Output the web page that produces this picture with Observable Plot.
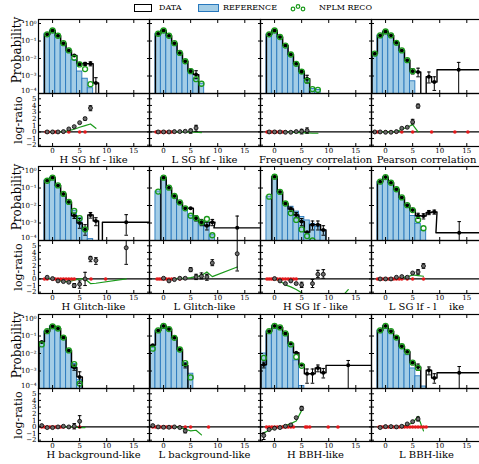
<!DOCTYPE html>
<html><head><meta charset="utf-8">
<script src="https://cdn.jsdelivr.net/npm/d3@7"></script>
<script src="https://cdn.jsdelivr.net/npm/@observablehq/plot@0.6"></script>
<style>
html,body{margin:0;padding:0;background:#fff;overflow:hidden;}
#fig{position:relative;width:479px;height:464px;overflow:hidden;font-family:"DejaVu Serif",serif;color:#000;}
.t{position:absolute;white-space:pre;line-height:1;}
</style></head><body><div id="fig"></div>
<script>
// ---------------- DATA ----------------
const panelNames = ["H SG hf - like","L SG hf - like","Frequency correlation","Pearson correlation",
  "H Glitch-like","L Glitch-like","H SG lf - like","L SG lf - l    ike",
  "H background-like","L background-like","H BBH-like","L BBH-like"];
const binStart = [-1,-1,-1,-2,-1,-1,-1,-1,-2,-2,-2,-1];
const refProb = [
  [0.26,0.40,0.20,0.075,0.029,0.008,0.0018,0.0007,0.0002,null],
  [0.26,0.40,0.20,0.075,0.021,0.007,0.0022,0.00066,0.00036],
  [0.24,0.40,0.17,0.055,0.017,0.005,0.0018,0.00053,0.00018,0.00016],
  [0.019,0.21,0.35,0.21,0.079,0.029,0.007,0.0005,null,null,null,null],
  [0.27,0.39,0.14,0.046,0.016,0.005,0.0019,0.0004,0.00012,null],
  [0.063,0.39,0.105,0.035,0.015,0.0069,0.0026,0.0019,0.0011,0.0011,0.0002],
  [0.032,0.44,0.06,0.015,0.0085,0.0045,0.0022,0.0014,0.0009,0.0006,0.0004],
  [0.23,0.42,0.2,0.085,0.029,0.0105,0.0025,0.0009,0.00036,null,null],
  [0.04,0.19,0.36,0.27,0.082,0.015,0.0025,0.0003],
  [0.022,0.21,0.38,0.25,0.079,0.017,0.0028,0.0007],
  [0.01,0.19,0.38,0.31,0.14,0.03,0.004,0.00014,null,null,null,null],
  [0.21,0.38,0.19,0.082,0.026,0.008,0.0014,0.0005,0.00013,null,null]
];
const dataProb = [
  [0.24,0.40,0.20,0.075,0.029,0.015,0.005,0.005,0.005,0.0004],
  [0.26,0.40,0.20,0.075,0.021,0.007,0.0019,0.0012,null],
  [0.24,0.40,0.17,0.055,0.017,0.005,0.0018,0.0007,null,null],
  [0.019,0.21,0.35,0.21,0.079,0.029,0.008,0.0019,0.0017,null,0.0009,0.00045],
  [0.27,0.39,0.14,0.046,0.016,0.0026,0.001,0.00043,0.0029,0.0013],
  [null,0.39,0.105,0.035,0.015,0.007,0.007,0.0019,0.0011,0.0007,0.0011],
  [null,0.44,0.06,0.013,0.0063,0.0029,0.0012,0.0003,0.0008,0.0008,0.0004],
  [0.23,0.42,0.2,0.085,0.029,0.0105,0.0055,0.0026,0.0025,0.004,0.0043],
  [0.046,0.19,0.36,0.27,0.082,0.015,0.0016,0.00046],
  [0.03,0.21,0.38,0.25,0.079,0.017,0.0021,null],
  [0.0023,0.19,0.38,0.31,0.14,0.037,0.011,0.0023,0.0007,0.0007,0.0015,0.0008],
  [0.21,0.38,0.19,0.082,0.026,0.0125,0.003,0.0017,null,0.0011,0.0004]
];
const nplmProb = [
  [0.24,0.40,0.20,0.075,0.029,0.011,0.0046,0.0025,0.00034,null],
  [0.26,0.40,0.20,0.075,0.021,0.007,0.0019,0.00066,0.00036],
  [0.24,0.40,0.17,0.055,0.017,0.005,0.0018,0.00053,0.00018,0.00016],
  [0.019,0.21,0.35,0.21,0.079,0.029,0.008,0.0019,null,null,null,null],
  [0.26,0.39,0.14,0.046,0.016,0.005,0.0019,0.00043,null,null],
  [0.063,0.39,0.105,0.035,0.015,0.0069,0.0026,0.0019,0.0011,0.0017,0.0002],
  [0.032,0.44,0.06,0.013,0.0037,0.0015,0.00043,0.00018,0.0001,null,null],
  [0.23,0.42,0.2,0.085,0.029,0.0105,0.0055,0.0015,0.0005,null,null],
  [0.033,0.19,0.36,0.27,0.082,0.015,0.0025,0.00019],
  [0.019,0.21,0.38,0.25,0.079,0.017,0.0028,0.00043],
  [0.0056,0.19,0.38,0.31,0.14,0.033,0.0064,0.002,null,null,null,null],
  [0.21,0.38,0.19,0.082,0.026,0.0125,0.003,0.0015,0.00007,null,null]
];
// wide last bin: [low edge, high edge, data probability, marker x]
const wideBin = [null,null,null,[9.5,18,0.0023,13.5],[9.2,18,0.0011,13.6],[9.3,18,0.00053,13.6],
  null,[9.3,18,0.00028,13.6],null,null,[9.5,18,0.0021,13.6],[9.5,18,0.0008,13.6]];
const dataErr = [
  [[5,0.004,0.006],[6,0.004,0.006],[7,0.0038,0.0065],[8,0.0001,0.0008]],
  [[5,0.0015,0.0025],[6,0.0007,0.002]],
  [[5,0.0014,0.0023],[6,0.0004,0.0011]],
  [[5,0.0013,0.0026],[6,0.0009,0.0028],[8,0.0004,0.0017],[9,0.00015,0.0009],[13.5,0.0001,0.006]],
  [[4,0.0018,0.0036],[5,0.0005,0.0018],[6,0.0002,0.0008],[7,0.0019,0.004],[8,0.0007,0.002],[13.6,0.0002,0.003]],
  [[6,0.0013,0.0026],[7,0.0007,0.0016],[8,0.0004,0.0011],[9,0.0007,0.0016],[13.6,0.0001,0.0025]],
  [[3,0.0045,0.008],[4,0.002,0.004],[5,0.0007,0.0018],[7,0.0004,0.0013],[8,0.0004,0.0013],[9,0.0002,0.0007]],
  [[6,0.0018,0.0036],[7,0.0017,0.0034],[8,0.003,0.0052],[9,0.0032,0.0055],[13.6,0.0001,0.0012]],
  [[4,0.0011,0.0022],[5,0.0002,0.0009]],
  [[4,0.0015,0.0028]],
  [[-2,0.0015,0.0032],[6,0.0002,0.0013],[7,0.0002,0.0013],[8,0.0009,0.0022],[9,0.0004,0.0014],[13.6,0.0001,0.004]],
  [[6,0.0011,0.0025],[8,0.0006,0.0017],[9,0.0002,0.0007],[13.6,0.0001,0.0018]]
];
const ratioData = [
  [0,0,0,0.05,0.45,0.8,1.4,2.0,3.6,null],
  [0,0,0,0.05,0.05,0.1,0.2,0.6,null],
  [0,0,0,-0.05,-0.05,0.05,0.1,0.2,null,null],
  [0,0,-0.05,-0.05,0.05,0.55,0.7,1.5,3.9,null,null,null],
  [0.25,0.05,-0.3,-0.4,-0.5,-1.0,-0.8,0,3.1,2.8],
  [null,0.1,-0.3,-0.1,0.1,0.1,1.4,0.3,0.4,0.3,2.4],
  [null,0.05,-0.3,-0.7,-0.3,-0.7,-0.9,null,-0.7,0.7,0.7],
  [0,0,0,0.25,0.35,0.25,0.9,1.05,1.95,null,null],
  [0.2,-0.1,-0.1,0,0.1,0,0.1,0.85],
  [0.2,0,-0.05,-0.05,0,-0.1,-0.6,null],
  [-1.3,-0.4,-0.2,-0.1,0.1,0.3,1.4,2.8,null,null,null,null],
  [-0.1,0.05,0.05,0,0.1,0.45,0.8,1.2,null,null,null]
];
const wideRatio = [null,null,null,null,4.7,3.8,null,null,null,null,null,null];
const ratioErr = [
  [[6,1.8,2.2],[7,3.2,3.95]],
  [[5,-0.2,0.4],[6,0.1,1.0]],
  [[5,-0.3,0.4],[6,-0.2,0.6]],
  [[5,1.2,1.9],[6,3.6,4.2]],
  [[4,-1.3,-0.7],[5,-1.4,-0.3],[6,-1.0,1.0],[7,2.6,3.4],[8,2.2,3.2],[13.6,2.2,6]],
  [[5,1.1,1.7],[6,-0.1,0.7],[7,0,0.9],[8,-0.2,0.7],[9,2.0,2.9],[13.6,1.2,6]],
  [[5,-1.3,-0.5],[7,-1.3,-0.1],[8,0.2,1.3],[9,0.1,1.4]],
  [[6,0.7,1.4],[7,1.6,2.3]],
  [[4,-0.3,0.5],[5,-0.1,1.7]],
  [[4,-0.9,-0.3]],
  [[-2,-1.9,-0.9],[5,2.5,3.1]],
  [[6,0.9,1.5]]
];
const ratioGreen = [
  [-0.05,0,0,0.05,0.2,0.4,0.7,0.95,1.2,0.55],
  [0,0,0,0,0,0,0,-0.05,-0.1],
  [0,0,0,0,-0.05,-0.1,-0.1,-0.15,-0.2,-0.2],
  [0,0,0,0,0.05,0.4,0.7,1.1,0,null,null,null],
  [0.1,0,-0.2,-0.4,-0.4,-0.2,0,0,-0.7,-0.65],
  [0,0,0.05,0.05,0.1,0.1,0.2,0.35,0.5,1.05,0.35],
  [0,0,-0.3,-0.9,-1.2,-1.6,-2.1,-3,-4,-5,-6],
  [0,0,0.05,0.1,0.2,0.3,0.6,0.5,0.4,null,null],
  [0.1,0,0,0,0,0,0,-0.1],
  [0,0,0,0,0,-0.1,-0.35,-0.6],
  [-0.9,-0.5,-0.2,0,0.2,0.5,0.9,2.5,null,null,null,null],
  [-0.1,0,0,0,0.05,0.3,0.6,1.6,-0.6,null,null]
];
const greenExtra = [[],[],[],[],[[13.6,0]],[[13.6,1.8]],[[13.6,-1.6]],[],[[6,-0.1]],[[6,-0.5],[7,-1.2]],[],[]];
const redX = [
  [-1.2,-0.8,0,0.5,1,2,3,5,6],
  [-1.4,-1,-0.6,-0.2,0.3,0.8,1.5,2],
  [-1.4,-1,-0.6,-0.2,0.3,0.8,1.5,2],
  [-2,-1.5,-1,0,1,2,3,5,8.5,12.8,15.2],
  [-1.5,-1,0,0.5,1,1.5,2,2.5,3,3.5,4,6,7.1,9.8],
  [-1.2,-0.8,-0.4,0,0.5,1,1.5,2,3],
  [-1.4,-1,-0.6,-0.2,0.5,1,1.5,2,2.5,3,3.5,4],
  [-1.5,-1,-0.5,0,0.5,1,1.5,2,2.5,3,4,5,7],
  [-2,-1.5,-1,-0.5,0,0.5,1,1.5,2,3,4,5],
  [-2,-1.5,-1,-0.5,0,0.5,1,1.5,2,3,4,5,8.3],
  [-1.5,-1,-0.5,0,0.5,1,1.5,2,2.5,3,3.5,5.7,6,6.5,9.9,11.7],
  [-1.2,-0.8,-0.4,0,0.5,1,1.5,2,2.5,3,3.5,4,4.5,5,5.5,6,6.5,7,7.5]
];
const xTicks = [0,5,10,15];
const probTicks = [1,0.1,0.01,0.001,0.0001];
const ratioTicks = [-2,-1,0,1,2,3,4,5];
const legendLabels = ["DATA","REFERENCE","NPLM RECO"];

// ---------------- LAYOUT ----------------
const colLeft = [38,149,260,371], panelW = 111;
const rowTop = [19,166,314], topH = 74, ratH = 53;
const xLabelY = [160,307,455];
const xDomain = [-2.6,17.9], probDomain = [1e-4,1.7], ratioDomain = [-2.2,5.8];
const C = {fill:"#a3cde6", edge:"#2878bd", green:"#1a9a1a", red:"#e41a1c"};
const FLOOR = 1e-8;
const fig = document.getElementById("fig");
const supMap = {"-":"\u207B","0":"\u2070","1":"\u00B9","2":"\u00B2","3":"\u00B3","4":"\u2074","5":"\u2075"};
const fmtPow = d => "10" + String(Math.round(Math.log10(d))).split("").map(c => supMap[c]).join("");
const blank = () => "";
const lowest = probTicks[probTicks.length - 1];
const fmtPowUpper = d => d === lowest ? "" : fmtPow(d);
const capSym = {draw(ctx){ ctx.moveTo(-1.8,0); ctx.lineTo(1.8,0); }};
const baseStyle = {background:"transparent", overflow:"visible", fontFamily:"DejaVu Serif, serif", fontSize:"7px", color:"black"};

function place(el, left, top){ el.style.position="absolute"; el.style.left=left+"px"; el.style.top=top+"px"; fig.appendChild(el); }
function addText(str, x, y, size, opts = {}){
  const s = document.createElement("span"); s.className = "t"; s.textContent = str;
  s.style.fontSize = size + "px"; s.style.left = x + "px"; s.style.top = y + "px";
  s.style.transform = opts.rotate ? "translate(-50%,-50%) rotate(-90deg)" : (opts.left ? "translate(0,-50%)" : "translate(-50%,-50%)");
  fig.appendChild(s);
}

for (let p = 0; p < 12; p++){
  const col = p % 4, row = Math.floor(p / 4);
  const left = colLeft[col], top = rowTop[row];
  const s = binStart[p];
  const bins = refProb[p].map((r,i) => ({x:s+i, ref:r, data:dataProb[p][i], nplm:nplmProb[p][i], ratio:ratioData[p][i], green:ratioGreen[p][i]}));
  const wb = wideBin[p];
  const segs = bins.map(b => ({lo:b.x-0.5, hi:b.x+0.5, v:b.data}));
  if (wb) segs.push({lo:wb[0], hi:wb[1], v:wb[2]});
  const step = [{x:segs[0].lo, y:FLOOR}];
  segs.forEach((g,i) => {
    if (i > 0 && g.lo > segs[i-1].hi + 1e-6) step.push({x:segs[i-1].hi, y:FLOOR}, {x:g.lo, y:FLOOR});
    const v = g.v == null ? FLOOR : g.v;
    step.push({x:g.lo, y:v}, {x:g.hi, y:v});
  });
  step.push({x:segs[segs.length-1].hi, y:FLOOR});
  const pts = bins.filter(b => b.data != null).map(b => ({x:b.x, y:b.data}));
  if (wb) pts.push({x:wb[3], y:wb[2]});
  const errs = dataErr[p].map(e => ({x:e[0], lo:e[1], hi:e[2]}));
  const caps = errs.flatMap(e => [{x:e.x, y:e.lo}, {x:e.x, y:e.hi}]);

  const topMarks = [
    Plot.rect(bins.filter(b => b.ref != null), {x1: b => b.x-0.5, x2: b => b.x+0.5, y1: FLOOR, y2: "ref", fill: C.fill, stroke: C.edge, strokeWidth: 0.9, clip: true}),
    Plot.line(step, {x:"x", y:"y", stroke:"black", strokeWidth:1.4, clip:true}),
    Plot.ruleX(errs, {x:"x", y1:"lo", y2:"hi", stroke:"black", strokeWidth:1, clip:true}),
    Plot.dot(caps, {x:"x", y:"y", symbol: capSym, stroke:"black", fill:"none", strokeWidth:1, clip:true}),
    Plot.dot(pts, {x:"x", y:"y", r:2, fill:"black", clip:true}),
    Plot.dot(bins.filter(b => b.nplm != null), {x:"x", y:"nplm", r:2.5, stroke:C.green, strokeWidth:1.3, fill:"none", clip:true}),
    Plot.frame({stroke:"black", strokeWidth:1.2}),
    Plot.axisX({ticks: xTicks, anchor:"bottom", tickSize:-3, tickFormat: blank}),
    Plot.axisX({ticks: xTicks, anchor:"top", tickSize:-3, tickFormat: blank}),
    Plot.axisY({ticks: probTicks, anchor:"left", tickSize:-3, tickPadding:5, tickFormat: col === 0 ? fmtPowUpper : blank}),
    Plot.axisY({ticks: probTicks, anchor:"right", tickSize:-3, tickFormat: blank})
  ];
  if (col === 0) topMarks.push(Plot.text([lowest], {y: d => d, frameAnchor:"left", dx:-2, dy:-3, textAnchor:"end", text: fmtPow}));
  const topPlot = Plot.plot({
    width: panelW, height: topH, margin: 0,
    x: {domain: xDomain, label: null},
    y: {type: "log", domain: probDomain, label: null},
    style: baseStyle,
    marks: topMarks
  });
  place(topPlot, left, top);

  const greenPts = bins.filter(b => b.green != null).map(b => ({x:b.x, y:b.green}))
    .concat(greenExtra[p].map(g => ({x:g[0], y:g[1]}))).sort((a,b) => a.x - b.x);
  const rpts = bins.filter(b => b.ratio != null).map(b => ({x:b.x, y:b.ratio}));
  if (wideRatio[p] != null) rpts.push({x:wb[3], y:wideRatio[p]});
  const rerr = ratioErr[p].map(e => ({x:e[0], lo:e[1], hi:e[2]}));
  const rcaps = rerr.flatMap(e => [{x:e.x, y:e.lo}, {x:e.x, y:e.hi}]);

  const ratPlot = Plot.plot({
    width: panelW, height: ratH, margin: 0,
    x: {domain: xDomain, label: null},
    y: {domain: ratioDomain, label: null},
    style: baseStyle,
    marks: [
      Plot.ruleY([0], {stroke:"black", strokeWidth:1.3}),
      Plot.line(greenPts, {x:"x", y:"y", stroke:C.green, strokeWidth:1.2, clip:true}),
      Plot.dot(redX[p], {x: d => d, y: 0, r:1.8, fill:C.red, clip:true}),
      Plot.ruleX(rerr, {x:"x", y1:"lo", y2:"hi", stroke:"black", strokeWidth:1, clip:true}),
      Plot.dot(rcaps, {x:"x", y:"y", symbol: capSym, stroke:"black", fill:"none", strokeWidth:1, clip:true}),
      Plot.dot(rpts, {x:"x", y:"y", r:2, fill:"#6e6e6e", stroke:"black", strokeWidth:0.8, clip:true}),
      Plot.frame({stroke:"black", strokeWidth:1.2}),
      Plot.axisX({ticks: xTicks, anchor:"bottom", tickSize:-3, tickPadding:5}),
      Plot.axisX({ticks: xTicks, anchor:"top", tickSize:-3, tickFormat: blank}),
      Plot.axisY({ticks: ratioTicks, anchor:"left", tickSize:-3, tickPadding:5, tickFormat: col === 0 ? undefined : blank}),
      Plot.axisY({ticks: ratioTicks, anchor:"right", tickSize:-3, tickFormat: blank})
    ]
  });
  place(ratPlot, left, top + topH);

  addText(panelNames[p], left + panelW/2, xLabelY[row], 10);
  if (col === 0){
    addText("Probability", 17, top + topH/2 - 6, 12, {rotate:true});
    addText("log-ratio", 18, top + topH + ratH/2, 11, {rotate:true});
  }
}

// ---------------- LEGEND ----------------
(function(){
  const r1 = document.createElement("div");
  r1.style.cssText = "width:16px;height:6px;border:1.3px solid #000;background:#fff;";
  place(r1, 134, 3.5);
  addText(legendLabels[0], 159, 7.5, 8, {left:true});
  const r2 = document.createElement("div");
  r2.style.cssText = `width:19px;height:6px;border:1.3px solid ${C.edge};background:${C.fill};`;
  place(r2, 198, 3.5);
  addText(legendLabels[1], 223, 7.5, 8, {left:true});
  const ns = "http://www.w3.org/2000/svg";
  const sv = document.createElementNS(ns, "svg");
  sv.setAttribute("width", 16); sv.setAttribute("height", 12);
  [[3,8],[8,5.5],[13,8]].forEach(([cx,cy]) => {
    const c = document.createElementNS(ns, "circle");
    c.setAttribute("cx", cx); c.setAttribute("cy", cy); c.setAttribute("r", 1.8);
    c.setAttribute("fill", "none"); c.setAttribute("stroke", C.green); c.setAttribute("stroke-width", 1.2);
    sv.appendChild(c);
  });
  place(sv, 290, 1);
  addText(legendLabels[2], 319, 7.5, 8, {left:true});
})();
</script>
</body></html>
